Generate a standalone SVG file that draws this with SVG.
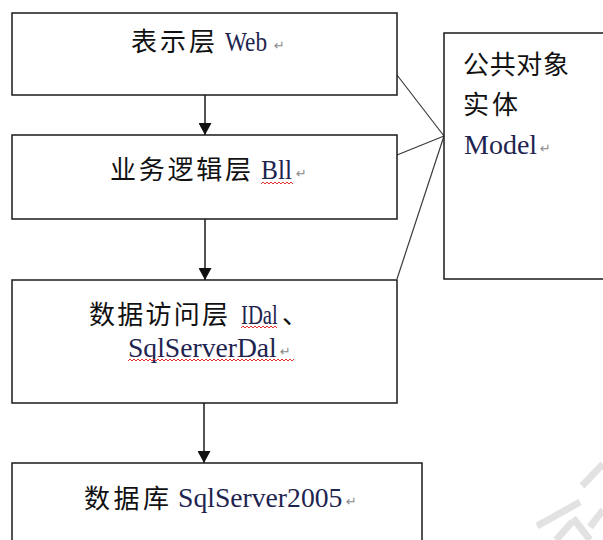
<svg xmlns="http://www.w3.org/2000/svg" width="603" height="540" viewBox="0 0 603 540">
<style>
.box{fill:#fff;stroke:#1a1a1a;stroke-width:1.5}
.cjk{font-family:"Noto Sans CJK SC","Noto Sans",sans-serif;font-size:26px;fill:#111}
.lat{font-family:"Liberation Serif",serif;font-size:28px;fill:#1e2450}
.ret{font-family:"DejaVu Sans",sans-serif;font-size:13px;fill:#8a8a8a}
.conn{stroke:#1a1a1a;stroke-width:1.5;fill:none}
.link{stroke:#3a3a3a;stroke-width:1.2;fill:none}
.wavy{stroke:#e03030;stroke-width:1;fill:none}
.wm{stroke:#e2e2e2;stroke-width:7;fill:none}
</style>
<defs>
<marker id="ah" markerWidth="12" markerHeight="13" refX="12" refY="6.5" orient="auto" markerUnits="userSpaceOnUse">
<path d="M0,0 L12,6.5 L0,13 Z" fill="#111"/>
</marker>
</defs>
<rect width="603" height="540" fill="#fff"/>
<g id="watermark">
<line class="wm" x1="582" y1="486" x2="603" y2="464"/>
<line class="wm" x1="537" y1="526" x2="580" y2="502"/>
<line class="wm" x1="556" y1="540" x2="572" y2="522"/>
<line class="wm" x1="573" y1="518" x2="590" y2="540"/>
<line class="wm" x1="590" y1="527" x2="603" y2="510"/>
</g>
<g id="connectors">
<line class="conn" x1="205" y1="95" x2="205" y2="135" marker-end="url(#ah)"/>
<line class="conn" x1="205" y1="219" x2="205" y2="280" marker-end="url(#ah)"/>
<line class="conn" x1="204" y1="403" x2="204" y2="463" marker-end="url(#ah)"/>
<line class="link" x1="397" y1="75" x2="444" y2="136"/>
<line class="link" x1="397" y1="155" x2="444" y2="136"/>
<line class="link" x1="397" y1="279" x2="444" y2="136"/>
</g>
<g id="web">
<rect class="box" x="12" y="13" width="385" height="82"/>
<text class="cjk" x="131" y="51" textLength="84" lengthAdjust="spacing">表示层</text>
<text class="lat" transform="translate(225 51) scale(0.832 1)">Web</text>
<text class="ret" x="274" y="50">↵</text>
</g>
<g id="bll">
<rect class="box" x="12" y="135" width="385" height="84"/>
<text class="cjk" x="110" y="179" textLength="141" lengthAdjust="spacing">业务逻辑层</text>
<text class="lat" transform="translate(261 179) scale(0.906 1)">Bll</text>
<text class="ret" x="296" y="178">↵</text>
<path class="wavy" d="M261,184 l2,-2 l2,2 l2,-2 l2,2 l2,-2 l2,2 l2,-2 l2,2 l2,-2 l2,2 l2,-2 l2,2 l2,-2 l2,2 l2,-2 l2,2"/>
</g>
<g id="dal">
<rect class="box" x="12" y="280" width="385" height="123"/>
<text class="cjk" x="89" y="324" textLength="139" lengthAdjust="spacing">数据访问层</text>
<text class="lat" transform="translate(241 324) scale(0.74 1)">IDal</text>
<text class="cjk" x="282" y="324">、</text>
<path class="wavy" d="M241,328 l2,-2 l2,2 l2,-2 l2,2 l2,-2 l2,2 l2,-2 l2,2 l2,-2 l2,2 l2,-2 l2,2 l2,-2 l2,2 l2,-2 l2,2 l2,-2 l2,2"/>
<text class="lat" transform="translate(128 357) scale(0.987 1)">SqlServerDal</text>
<text class="ret" x="280" y="356">↵</text>
<path class="wavy" d="M128,361 l2,-2 l2,2 l2,-2 l2,2 l2,-2 l2,2 l2,-2 l2,2 l2,-2 l2,2 l2,-2 l2,2 l2,-2 l2,2 l2,-2 l2,2 l2,-2 l2,2 l2,-2 l2,2 l2,-2 l2,2 l2,-2 l2,2 l2,-2 l2,2 l2,-2 l2,2 l2,-2 l2,2 l2,-2 l2,2 l2,-2 l2,2 l2,-2 l2,2 l2,-2 l2,2 l2,-2 l2,2 l2,-2 l2,2 l2,-2 l2,2 l2,-2 l2,2 l2,-2 l2,2 l2,-2 l2,2 l2,-2 l2,2 l2,-2 l2,2 l2,-2 l2,2 l2,-2 l2,2 l2,-2 l2,2 l2,-2 l2,2 l2,-2 l2,2 l2,-2 l2,2 l2,-2 l2,2 l2,-2 l2,2 l2,-2 l2,2 l2,-2 l2,2 l2,-2 l2,2 l2,-2 l2,2 l2,-2 l2,2 l2,-2 l2,2 l2,-2"/>
</g>
<g id="db">
<rect class="box" x="12" y="463" width="410" height="90"/>
<text class="cjk" x="84" y="508" textLength="85" lengthAdjust="spacing">数据库</text>
<text class="lat" transform="translate(178 507) scale(0.988 1)">SqlServer2005</text>
<text class="ret" x="346" y="506">↵</text>
</g>
<g id="model">
<rect class="box" x="444" y="33" width="200" height="246"/>
<text class="cjk" x="463" y="74" textLength="106" lengthAdjust="spacing">公共对象</text>
<text class="cjk" x="463" y="114" textLength="55" lengthAdjust="spacing">实体</text>
<text class="lat" x="464" y="154">Model</text>
<text class="ret" x="540" y="153">↵</text>
</g>
</svg>
